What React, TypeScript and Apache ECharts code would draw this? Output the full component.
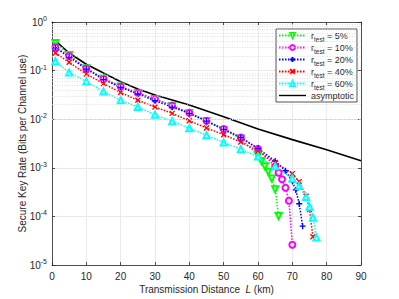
import React, { useEffect, useRef } from "react";
import * as echarts from "echarts";

// ---------- data ----------
const distG = [1, 5, 10, 15, 20, 25, 30, 35, 40, 45, 50, 55, 60, 61, 62, 63, 64, 65, 66];
const rateG = [0.37, 0.21, 0.112, 0.069, 0.047, 0.034, 0.026, 0.0186, 0.0132, 0.0091, 0.006, 0.004, 0.0018, 0.00138, 0.00107, 0.00083, 0.0006, 0.00036, 0.000102];

const distM = [1, 5, 10, 15, 20, 25, 30, 35, 40, 45, 50, 55, 60, 65, 66, 67, 68, 69, 70];
const rateM = [0.3, 0.2, 0.11, 0.068, 0.047, 0.035, 0.026, 0.019, 0.0135, 0.0093, 0.0063, 0.0042, 0.00245, 0.00107, 0.00079, 0.00058, 0.00039, 0.00021, 0.000026];

const distB = [1, 5, 10, 15, 20, 25, 30, 35, 40, 45, 50, 55, 60, 65, 68, 70, 71, 72, 73];
const rateB = [0.295, 0.19, 0.107, 0.066, 0.045, 0.033, 0.024, 0.0178, 0.0132, 0.0091, 0.0062, 0.0042, 0.0025, 0.00138, 0.00087, 0.00052, 0.00035, 0.000182, 0.000063];

const distR = [1, 5, 10, 15, 20, 25, 30, 35, 40, 45, 50, 55, 60, 65, 70, 72, 74, 75, 76];
const rateR = [0.23, 0.148, 0.085, 0.054, 0.0355, 0.0245, 0.0178, 0.0132, 0.0093, 0.0066, 0.0048, 0.0034, 0.0022, 0.00129, 0.00076, 0.00052, 0.00026, 0.000138, 0.000038];

const distC = [1, 5, 10, 15, 20, 25, 30, 35, 40, 45, 50, 55, 60, 65, 70, 72, 74, 75, 76, 77];
const rateC = [0.155, 0.091, 0.06, 0.037, 0.0245, 0.0178, 0.0123, 0.0091, 0.0065, 0.0047, 0.0033, 0.0024, 0.0017, 0.00107, 0.0006, 0.00042, 0.00025, 0.000158, 0.000095, 0.000037];

const distA = [1, 5, 10, 15, 20, 25, 30, 40, 50, 60, 70, 80, 90];
const rateA = [0.41, 0.23, 0.135, 0.089, 0.059, 0.042, 0.0316, 0.0195, 0.0112, 0.0063, 0.0038, 0.00234, 0.0014];

const seriesNames = ["r5", "r10", "r20", "r40", "r60", "asym"];
const legendPct = ["5%", "10%", "20%", "40%", "60%"];

const xTicks = { min: 0, max: 90, step: 10 };
const yRange = { min: 1e-5, max: 1 };
const minorMult = [2, 3, 4, 5, 6, 7, 8, 9];
const minorDecades = [1e-5, 1e-4, 1e-3, 1e-2, 1e-1];

const FONT = "'Liberation Sans', Arial, Helvetica, sans-serif";
const TXT = "#262626";

const plusPath = "path://M5,0L5,10M0,5L10,5";
const crossPath = "path://M0,0L10,10M0,10L10,0";
const linePath = "path://M0,0L27,0L27,1.4L0,1.4Z";

function mk(name: string, xs: number[], ys: number[], color: string, symbol: string, rotate = 0, size = 6) {
  return {
    type: "line",
    name,
    data: xs.map((x, i) => [x, ys[i]]),
    symbol,
    symbolSize: size,
    symbolRotate: rotate,
    showSymbol: true,
    showAllSymbol: true,
    lineStyle: { color, width: 1.5, type: [1.5, 1.5] },
    itemStyle: { color, borderColor: color, borderWidth: 1.3 },
    z: 3,
  };
}

export default function App() {
  const ref = useRef<HTMLDivElement>(null);
  useEffect(() => {
    const chart = echarts.init(ref.current!, null, { renderer: "svg" });
    const minorLines: any[] = [];
    minorDecades.forEach((d) => minorMult.forEach((m) => minorLines.push({ yAxis: m * d })));

    const axisLineStyle = { color: TXT, width: 0.8 };
    const option: any = {
      animation: false,
      backgroundColor: "#fff",
      textStyle: { fontFamily: FONT },
      grid: { left: 52, right: 38, top: 22, bottom: 33 },
      xAxis: [
        {
          type: "value",
          min: xTicks.min,
          max: xTicks.max,
          interval: xTicks.step,
          position: "bottom",
          axisLine: { show: true, onZero: false, lineStyle: axisLineStyle },
          axisTick: { show: true, inside: true, length: 3, lineStyle: axisLineStyle },
          axisLabel: { color: TXT, fontSize: 10, margin: 6, fontFamily: FONT },
          splitLine: { show: true, lineStyle: { color: "#e4e4e4", width: 0.8 } },
          name: "{a|Transmission Distance  }{i|L}{a| (km)}",
          nameLocation: "middle",
          nameGap: 19,
          nameMoveOverlap: false,
          nameTextStyle: {
            rich: {
              a: { fontSize: 10, color: TXT, fontFamily: FONT },
              i: { fontSize: 10, color: TXT, fontFamily: FONT, fontStyle: "italic" },
            },
          },
        },
        {
          type: "value",
          min: xTicks.min,
          max: xTicks.max,
          interval: xTicks.step,
          position: "top",
          axisLine: { show: true, onZero: false, lineStyle: axisLineStyle },
          axisTick: { show: true, inside: true, length: 3, lineStyle: axisLineStyle },
          axisLabel: { show: false },
          splitLine: { show: false },
        },
      ],
      yAxis: [
        {
          type: "log",
          logBase: 10,
          min: yRange.min,
          max: yRange.max,
          position: "left",
          axisLine: { show: true, onZero: false, lineStyle: axisLineStyle },
          axisTick: { show: true, inside: true, length: 3, lineStyle: axisLineStyle },
          axisLabel: {
            color: TXT,
            margin: 5,
            fontFamily: FONT,
            formatter: (v: number) => `{b|10}{s|${Math.round(Math.log10(v))}}`,
            rich: {
              b: { fontSize: 10, color: TXT, lineHeight: 14, fontFamily: FONT },
              s: { fontSize: 7, color: TXT, lineHeight: 5, verticalAlign: "top", fontFamily: FONT },
            },
          },
          splitLine: { show: true, lineStyle: { color: "#e4e4e4", width: 0.8 } },
          name: "Secure Key Rate (Bits per Channel use)",
          nameLocation: "middle",
          nameGap: 25,
          nameMoveOverlap: false,
          nameTextStyle: { fontSize: 10, color: TXT, fontFamily: FONT },
        },
        {
          type: "log",
          logBase: 10,
          min: yRange.min,
          max: yRange.max,
          position: "right",
          axisLine: { show: true, onZero: false, lineStyle: axisLineStyle },
          axisTick: { show: true, inside: true, length: 3, lineStyle: axisLineStyle },
          axisLabel: { show: false },
          splitLine: { show: false },
        },
      ],
      legend: {
        orient: "vertical",
        left: 276,
        top: 29,
        itemWidth: 27,
        itemHeight: 6,
        itemGap: 0,
        padding: [2, 3, 2, 2],
        borderColor: TXT,
        borderWidth: 0.8,
        backgroundColor: "#fff",
        data: seriesNames.map((n) => (n === "asym" ? { name: n, icon: linePath } : { name: n })),
        formatter: (name: string) => {
          const i = seriesNames.indexOf(name);
          if (i < legendPct.length) return `{r|r}{s|test}{r| = ${legendPct[i]}}`;
          return "{r|asymptotic}";
        },
        textStyle: {
          color: TXT,
          fontFamily: FONT,
          rich: {
            r: { fontSize: 9, color: TXT, lineHeight: 15, fontFamily: FONT },
            s: { fontSize: 6.5, color: TXT, lineHeight: 5, verticalAlign: "bottom", fontFamily: FONT },
          },
        },
      },
      series: [
        {
          type: "line",
          name: "grid-minor",
          data: [],
          silent: true,
          z: 1,
          markLine: {
            silent: true,
            symbol: "none",
            label: { show: false },
            lineStyle: { color: "#d2d2d2", width: 0.7, type: [1, 1.5] },
            data: minorLines,
          },
        },
        mk("r5", distG, rateG, "#00ff00", "emptyTriangle", 180),
        mk("r10", distM, rateM, "#ff00ff", "emptyCircle"),
        mk("r20", distB, rateB, "#0000ff", plusPath),
        mk("r40", distR, rateR, "#ff0000", crossPath, 0, 5),
        mk("r60", distC, rateC, "#00ffff", "emptyTriangle"),
        {
          type: "line",
          name: "asym",
          data: distA.map((x, i) => [x, rateA[i]]),
          symbol: "none",
          lineStyle: { color: "#000", width: 1.6, type: "solid" },
          itemStyle: { color: "#000" },
          z: 2,
        },
      ],
    };
    chart.setOption(option);
    return () => chart.dispose();
  }, []);
  return <div ref={ref} style={{ position: "absolute", left: 0, top: 0, width: 399, height: 299 }} />;
}
